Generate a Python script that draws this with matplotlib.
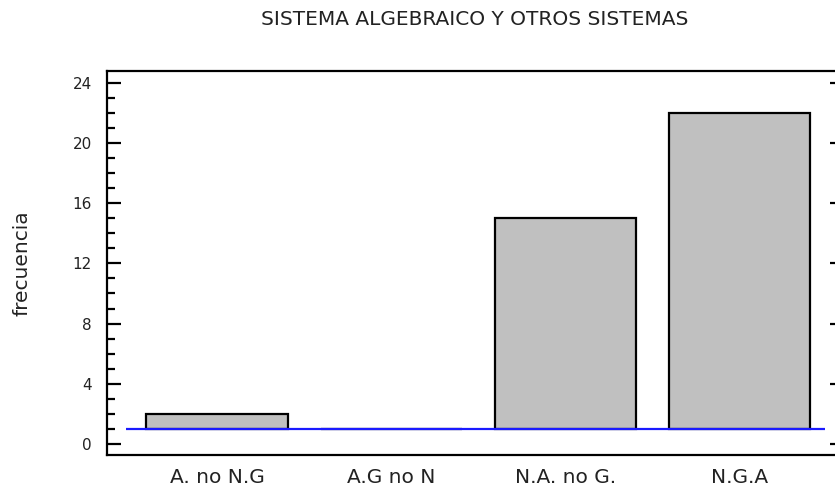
import numpy as np
import matplotlib
matplotlib.use('Agg')
import matplotlib.pyplot as plt
from matplotlib.ticker import MultipleLocator

# frecuencias por categoria
categorias = ['A. no N.G', 'A.G no N', 'N.A. no G.', 'N.G.A']
frecuencias = [2, 1, 15, 22]
linea_base = 1
y_ticks = [0, 4, 8, 12, 16, 20, 24]

titulo = 'SISTEMA ALGEBRAICO Y OTROS SISTEMAS'
etiqueta_y = 'frecuencia'

plt.rcParams['font.family'] = ['DejaVu Sans']

fig = plt.figure(figsize=(8.35, 4.87), dpi=100)
ax = fig.add_axes([0.1281, 0.0657, 0.8754, 0.7885])

x = np.arange(len(categorias))
alturas = [v - linea_base for v in frecuencias]
ax.bar(x, alturas, bottom=linea_base, width=0.81, color='#c0c0c0',
       edgecolor='black', linewidth=1.6, zorder=2)
ax.hlines(linea_base, -0.52, 3.49, color='#1a1aff', linewidth=1.6, zorder=3)

ax.set_xlim(-0.632, 3.565)
ax.set_ylim(-0.73, 24.78)

ax.set_xticks(x)
ax.set_xticklabels(categorias, fontsize=14.5, color='#222222')
ax.tick_params(axis='x', length=0, pad=9)

ax.set_yticks(y_ticks)
ax.set_yticklabels([str(t) for t in y_ticks], fontsize=11, color='#222222')
ax.yaxis.set_minor_locator(MultipleLocator(1))
ax.tick_params(axis='y', which='major', direction='in', length=10, width=1.6, pad=11)
ax.tick_params(axis='y', which='minor', direction='in', length=5.8, width=1.6)

# marcas cortas del lado derecho
sec = ax.secondary_yaxis('right')
sec.set_yticks(y_ticks)
sec.tick_params(direction='in', length=5.8, width=1.6, labelright=False)
sec.spines['right'].set_visible(False)

for s in ax.spines.values():
    s.set_linewidth(1.6)

fig.text(475 / 835, 1 - 19.5 / 487, titulo, fontsize=14.5, ha='center', va='center',
         color='#222222')
fig.text(22 / 835, 1 - 263 / 487, etiqueta_y, fontsize=14.5, rotation=90, ha='center',
         va='center', color='#222222')

fig.savefig('out.png', dpi=100)
